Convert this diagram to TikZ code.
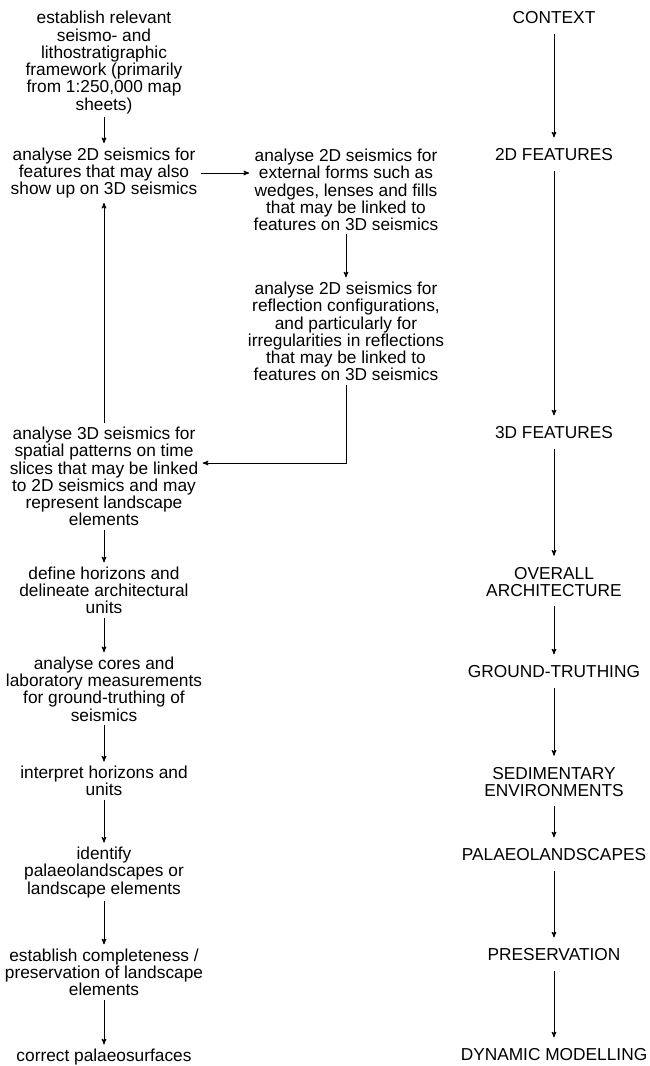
\documentclass[tikz,border=0pt]{standalone}
\usepackage{fontspec}
\setmainfont{Liberation Sans}
\usetikzlibrary{arrows, positioning}

\begin{document}
\begin{tikzpicture}[->, >=stealth', shorten >=1pt, x=1pt, y=1pt, line width=1pt, node distance=100pt,
	stepbox/.style={align=center, inner sep=3pt, font=\fontsize{17.3}{17.3}\selectfont},
	themebox/.style={stepbox},
	themeflow/.style={shorten <=6pt, shorten >=8pt}]
	\useasboundingbox (0,0) rectangle (649,-1066);

	% workflow, left column
	\node[stepbox] (frame) at (104,-62.5) {establish relevant\\seismo- and\\lithostratigraphic\\framework (primarily\\from 1:250,000 map\\sheets)};
	\node[stepbox] (seis2d) [below of=frame, node distance=110.5pt] {analyse 2D seismics for\\features that may also\\show up on 3D seismics};
	\node[stepbox] (seis3d) [below of=seis2d, node distance=303.5pt] {analyse 3D seismics for\\spatial patterns on time\\slices that may be linked\\to 2D seismics and may\\represent landscape\\elements};
	\node[stepbox] (horizons) [below of=seis3d, node distance=114pt] {define horizons and\\delineate architectural\\units};
	\node[stepbox] (cores) [below of=horizons, node distance=98.5pt] {analyse cores and\\laboratory measurements\\for ground-truthing of\\seismics};
	\node[stepbox] (interpret) [below of=cores, node distance=92pt] {interpret horizons and\\units};
	\node[stepbox] (identify) [below of=interpret, node distance=91.5pt] {identify\\palaeolandscapes or\\landscape elements};
	\node[stepbox] (complete) [below of=identify, node distance=100pt] {establish completeness /\\preservation of landscape\\elements};
	\node[stepbox] (correct) [below of=complete, node distance=84.5pt] {correct palaeosurfaces};

	% 2D seismics, middle column
	\node[stepbox] (forms) at (346,-190) {analyse 2D seismics for\\external forms such as\\wedges, lenses and fills\\that may be linked to\\features on 3D seismics};
	\node[stepbox] (reflect) [below of=forms, node distance=141.5pt] {analyse 2D seismics for\\reflection configurations,\\and particularly for\\irregularities in reflections\\that may be linked to\\features on 3D seismics};

	% themes, right column
	\node[themebox] (context) at (554,-18) {CONTEXT};
	\node[themebox] (feat2d) [below of=context, node distance=137pt] {2D FEATURES};
	\node[themebox] (feat3d) [below of=feat2d, node distance=278pt] {3D FEATURES};
	\node[themebox] (arch) [below of=feat3d, node distance=149pt] {OVERALL\\ARCHITECTURE};
	\node[themebox] (truth) [below of=arch, node distance=90pt] {GROUND-TRUTHING};
	\node[themebox] (sedenv) [below of=truth, node distance=110pt] {SEDIMENTARY\\ENVIRONMENTS};
	\node[themebox] (palaeo) [below of=sedenv, node distance=73pt] {PALAEOLANDSCAPES};
	\node[themebox] (preserve) [below of=palaeo, node distance=100pt] {PRESERVATION};
	\node[themebox] (dynamic) [below of=preserve, node distance=100pt] {DYNAMIC MODELLING};

	\draw (frame) -- (seis2d);
	\draw (seis3d) -- (seis2d);
	\draw (seis2d.east) -- (seis2d.east -| forms.west);
	\draw (forms) -- (reflect);
	\draw (reflect.south) |- ([yshift=13.5pt]seis3d.east);
	\draw (seis3d) -- (horizons);
	\draw (horizons) -- (cores);
	\draw (cores) -- (interpret);
	\draw (interpret) -- (identify);
	\draw (identify) -- (complete);
	\draw (complete) -- (correct);

	\draw[themeflow] (context) -- (feat2d);
	\draw[themeflow] (feat2d) -- (feat3d);
	\draw[themeflow] (feat3d) -- (arch);
	\draw[themeflow] (arch) -- (truth);
	\draw[themeflow] (truth) -- (sedenv);
	\draw[themeflow] (sedenv) -- (palaeo);
	\draw[themeflow] (palaeo) -- (preserve);
	\draw[themeflow] (preserve) -- (dynamic);
\end{tikzpicture}
\end{document}
